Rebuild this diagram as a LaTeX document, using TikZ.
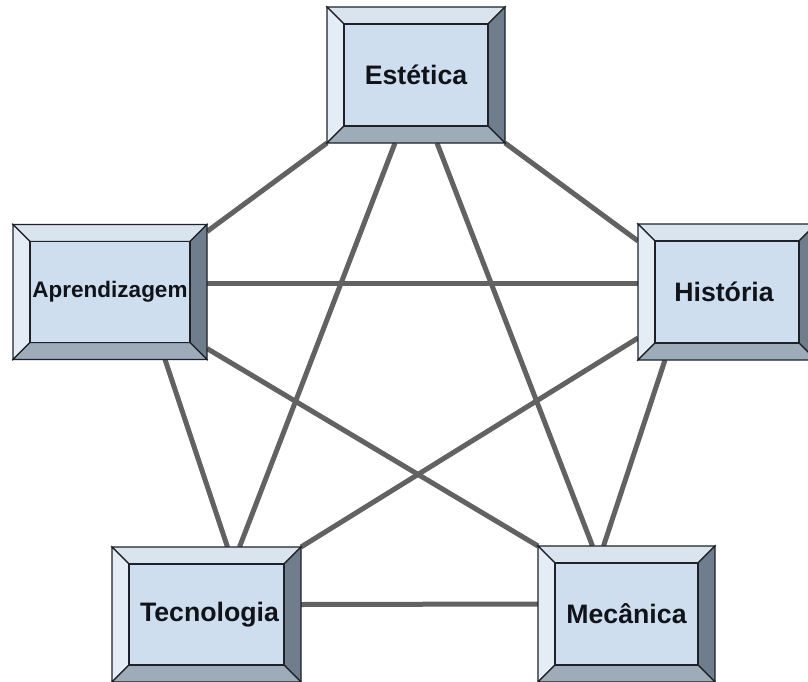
\documentclass[tikz,border=0pt]{standalone}
\usepackage{fontspec}
\setmainfont{Liberation Sans}
\usetikzlibrary{calc}
\pgfdeclarelayer{bg}
\pgfsetlayers{bg,main}
\definecolor{facefront}{HTML}{CFDEEE}
\definecolor{facetop}{HTML}{DAE4EF}
\definecolor{faceleft}{HTML}{E4ECF5}
\definecolor{faceright}{HTML}{6F7D8C}
\definecolor{facebottom}{HTML}{9EABB9}
\definecolor{edgecol}{HTML}{1E2228}
\definecolor{linkcol}{HTML}{626262}
\definecolor{txtcol}{HTML}{10131A}
\tikzset{
  boxshape/.style={rectangle, inner sep=0pt, outer sep=0pt},
  bevel/.style={draw=edgecol, line width=1.1pt, line join=miter},
  link/.style={draw=linkcol, line width=5pt},
  lbl/.style={font=\bfseries\fontsize{26.7}{30}\selectfont, text=txtcol},
}
\newcommand\bevelbox[6]{%
  \node[boxshape, minimum width=#4pt, minimum height=#5pt] (#1) at (#2,#3) {};
  \coordinate (#1-inw) at ($(#1.north west)+(17pt,-17pt)$);
  \coordinate (#1-ine) at ($(#1.north east)+(-17pt,-17pt)$);
  \coordinate (#1-ise) at ($(#1.south east)+(-17pt,17pt)$);
  \coordinate (#1-isw) at ($(#1.south west)+(17pt,17pt)$);
  \filldraw[bevel, fill=facetop] (#1.north west) -- (#1.north east) -- (#1-ine) -- (#1-inw) -- cycle;
  \filldraw[bevel, fill=faceleft] (#1.north west) -- (#1-inw) -- (#1-isw) -- (#1.south west) -- cycle;
  \filldraw[bevel, fill=faceright] (#1.north east) -- (#1.south east) -- (#1-ise) -- (#1-ine) -- cycle;
  \filldraw[bevel, fill=facebottom] (#1.south west) -- (#1-isw) -- (#1-ise) -- (#1.south east) -- cycle;
  \filldraw[bevel, fill=facefront] (#1-inw) rectangle (#1-ise);
  #6
}
\begin{document}
\begin{tikzpicture}[x=1pt, y=-1pt]
\clip (0,0) rectangle (808,682);
\bevelbox{est}{416}{75}{178}{136}{\node[lbl] at (est) {Estética};}
\bevelbox{apr}{110}{292}{194}{135}{\node[lbl, font=\bfseries\fontsize{22.5}{26}\selectfont] at (apr) {Aprendizagem};}
\bevelbox{his}{727}{292}{178}{136}{\node[lbl] at ($(his)+(-3pt,0)$) {História};}
\bevelbox{tec}{206.5}{614.5}{189}{135}{\node[lbl] at ($(tec)+(3pt,0)$) {Tecnologia};}
\bevelbox{mec}{626.5}{614}{177}{136}{\node[lbl] at (mec) {Mecânica};}
\begin{pgfonlayer}{bg}
  \fill[white] (0,0) rectangle (808,682);
  \draw[link] (est.south west) -- ($(apr.north east)+(0,-7pt)$);
  \draw[link] (est.south east) -- ($(his.north west)+(0,-17pt)$);
  \draw[link] ($(est.south)+(-21pt,0)$) -- ($(tec.north)+(33pt,0)$);
  \draw[link] ($(est.south)+(21pt,0)$) -- ($(mec.north)+(-34pt,0)$);
  \draw[link] ($(apr.east)+(0,9pt)$) -- ($(his.west)+(0,9pt)$);
  \draw[link] ($(apr.south)+(55pt,0)$) -- ($(tec.north)+(21pt,0)$);
  \draw[link] ($(apr.south east)+(0,11pt)$) -- (mec.north west);
  \draw[link] ($(his.south west)+(0,22pt)$) -- (tec.north east);
  \draw[link] ($(his.south west)+(27pt,0)$) -- ($(mec.north)+(-23pt,0)$);
  \draw[link] ($(tec.east)+(0,10pt)$) -- ($(mec.west)+(0,10pt)$);
\end{pgfonlayer}
\end{tikzpicture}
\end{document}
